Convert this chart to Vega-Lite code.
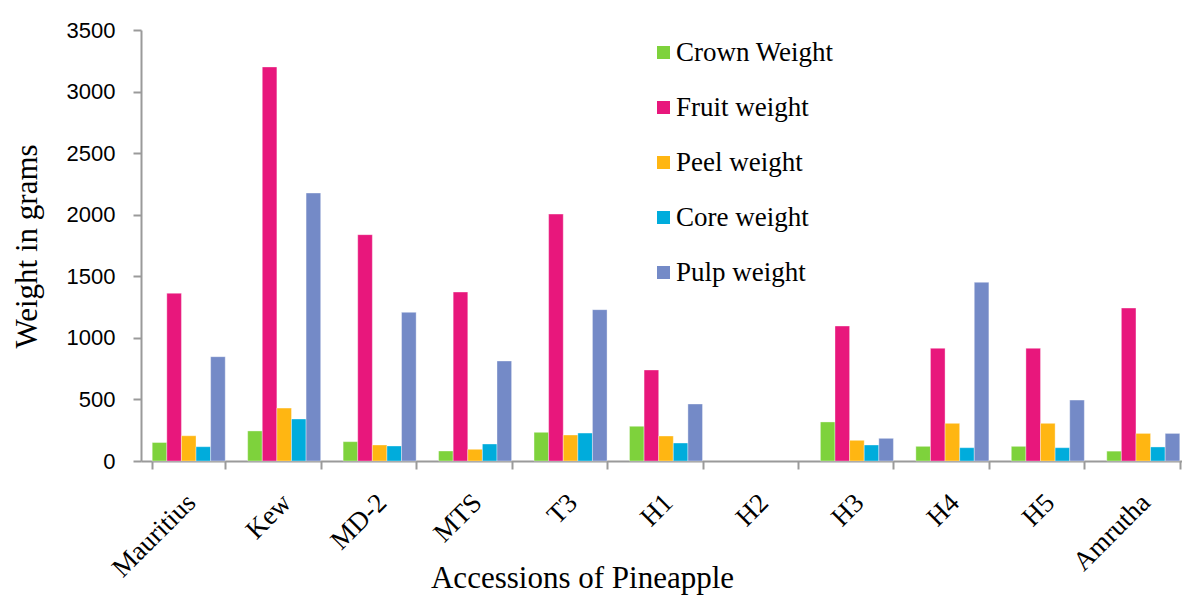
{
  "$schema": "https://vega.github.io/schema/vega-lite/v6.json",
  "autosize": "none",
  "padding": {"left": 141, "top": 30, "right": 0, "bottom": 134},
  "width": 1050,
  "height": 431,
  "background": "white",
  "data": {"values": [
    {"acc": "Mauritius", "trait": "Crown Weight", "w": 150},
    {"acc": "Mauritius", "trait": "Fruit weight", "w": 1362},
    {"acc": "Mauritius", "trait": "Peel weight", "w": 205},
    {"acc": "Mauritius", "trait": "Core weight", "w": 116},
    {"acc": "Mauritius", "trait": "Pulp weight", "w": 847},
    {"acc": "Kew", "trait": "Crown Weight", "w": 244},
    {"acc": "Kew", "trait": "Fruit weight", "w": 3200},
    {"acc": "Kew", "trait": "Peel weight", "w": 430},
    {"acc": "Kew", "trait": "Core weight", "w": 341},
    {"acc": "Kew", "trait": "Pulp weight", "w": 2176},
    {"acc": "MD-2", "trait": "Crown Weight", "w": 157},
    {"acc": "MD-2", "trait": "Fruit weight", "w": 1838},
    {"acc": "MD-2", "trait": "Peel weight", "w": 130},
    {"acc": "MD-2", "trait": "Core weight", "w": 122},
    {"acc": "MD-2", "trait": "Pulp weight", "w": 1207},
    {"acc": "MTS", "trait": "Crown Weight", "w": 81},
    {"acc": "MTS", "trait": "Fruit weight", "w": 1372},
    {"acc": "MTS", "trait": "Peel weight", "w": 95},
    {"acc": "MTS", "trait": "Core weight", "w": 138},
    {"acc": "MTS", "trait": "Pulp weight", "w": 812},
    {"acc": "T3", "trait": "Crown Weight", "w": 233},
    {"acc": "T3", "trait": "Fruit weight", "w": 2005},
    {"acc": "T3", "trait": "Peel weight", "w": 211},
    {"acc": "T3", "trait": "Core weight", "w": 227},
    {"acc": "T3", "trait": "Pulp weight", "w": 1229},
    {"acc": "H1", "trait": "Crown Weight", "w": 282},
    {"acc": "H1", "trait": "Fruit weight", "w": 739},
    {"acc": "H1", "trait": "Peel weight", "w": 203},
    {"acc": "H1", "trait": "Core weight", "w": 146},
    {"acc": "H1", "trait": "Pulp weight", "w": 463},
    {"acc": "H2", "trait": "Crown Weight", "w": null},
    {"acc": "H2", "trait": "Fruit weight", "w": null},
    {"acc": "H2", "trait": "Peel weight", "w": null},
    {"acc": "H2", "trait": "Core weight", "w": null},
    {"acc": "H2", "trait": "Pulp weight", "w": null},
    {"acc": "H3", "trait": "Crown Weight", "w": 317},
    {"acc": "H3", "trait": "Fruit weight", "w": 1096},
    {"acc": "H3", "trait": "Peel weight", "w": 168},
    {"acc": "H3", "trait": "Core weight", "w": 130},
    {"acc": "H3", "trait": "Pulp weight", "w": 184},
    {"acc": "H4", "trait": "Crown Weight", "w": 119},
    {"acc": "H4", "trait": "Fruit weight", "w": 915},
    {"acc": "H4", "trait": "Peel weight", "w": 306},
    {"acc": "H4", "trait": "Core weight", "w": 108},
    {"acc": "H4", "trait": "Pulp weight", "w": 1451},
    {"acc": "H5", "trait": "Crown Weight", "w": 119},
    {"acc": "H5", "trait": "Fruit weight", "w": 915},
    {"acc": "H5", "trait": "Peel weight", "w": 306},
    {"acc": "H5", "trait": "Core weight", "w": 108},
    {"acc": "H5", "trait": "Pulp weight", "w": 495},
    {"acc": "Amrutha", "trait": "Crown Weight", "w": 80},
    {"acc": "Amrutha", "trait": "Fruit weight", "w": 1242},
    {"acc": "Amrutha", "trait": "Peel weight", "w": 224},
    {"acc": "Amrutha", "trait": "Core weight", "w": 114},
    {"acc": "Amrutha", "trait": "Pulp weight", "w": 224}
  ]},
  "mark": {"type": "bar", "stroke": "#ffffff", "strokeWidth": 0.6, "strokeOpacity": 0.6},
  "encoding": {
    "x": {
      "field": "acc", "type": "nominal",
      "sort": ["Mauritius", "Kew", "MD-2", "MTS", "T3", "H1", "H2", "H3", "H4", "H5", "Amrutha"],
      "scale": {
        "domain": ["Mauritius", "Kew", "MD-2", "MTS", "T3", "H1", "H2", "H3", "H4", "H5", "Amrutha"],
        "paddingInner": 0.235, "paddingOuter": 0.1175
      },
      "axis": {
        "title": "Accessions of Pineapple",
        "titleFont": "Liberation Serif", "titleFontSize": 31, "titleFontWeight": "normal", "titleColor": "#000000",
        "titleX": 441, "titleY": 126, "titleAlign": "center", "titleBaseline": "alphabetic",
        "labelFont": "Liberation Serif", "labelFontSize": 27, "labelColor": "#000000",
        "labelAngle": -45, "labelPadding": 20, "labelOffset": -7,
        "domainColor": "#9a9a9a", "domainWidth": 2,
        "tickColor": "#9a9a9a", "tickWidth": 2, "tickSize": 8, "tickBand": "extent"
      }
    },
    "xOffset": {
      "field": "trait", "type": "nominal",
      "sort": ["Crown Weight", "Fruit weight", "Peel weight", "Core weight", "Pulp weight"],
      "scale": {"paddingInner": 0, "paddingOuter": 0}
    },
    "y": {
      "field": "w", "type": "quantitative",
      "scale": {"domain": [0, 3500], "nice": false},
      "axis": {
        "title": "Weight in grams",
        "titleFont": "Liberation Serif", "titleFontSize": 31, "titleFontWeight": "normal", "titleColor": "#000000",
        "titleX": -105, "titleY": 216, "titleAngle": -90, "titleAlign": "center", "titleBaseline": "alphabetic",
        "values": [0, 500, 1000, 1500, 2000, 2500, 3000, 3500],
        "format": "d",
        "grid": false,
        "labelFont": "Liberation Sans", "labelFontSize": 22, "labelColor": "#000000", "labelPadding": 18,
        "domainColor": "#9a9a9a", "domainWidth": 2,
        "tickColor": "#9a9a9a", "tickWidth": 2, "tickSize": 8
      }
    },
    "color": {
      "field": "trait", "type": "nominal",
      "sort": ["Crown Weight", "Fruit weight", "Peel weight", "Core weight", "Pulp weight"],
      "scale": {
        "domain": ["Crown Weight", "Fruit weight", "Peel weight", "Core weight", "Pulp weight"],
        "range": ["#7ED23C", "#E8177C", "#FFB612", "#00ACDC", "#748AC7"]
      },
      "legend": {
        "title": null,
        "orient": "none", "legendX": 509, "legendY": 9,
        "symbolType": "square", "symbolSize": 169, "symbolStrokeWidth": 0, "symbolOpacity": 1,
        "labelFont": "Liberation Serif", "labelFontSize": 27, "labelColor": "#000000",
        "labelOffset": -1, "rowPadding": 27, "labelLimit": 400
      }
    }
  },
  "config": {"view": {"stroke": null}}
}
